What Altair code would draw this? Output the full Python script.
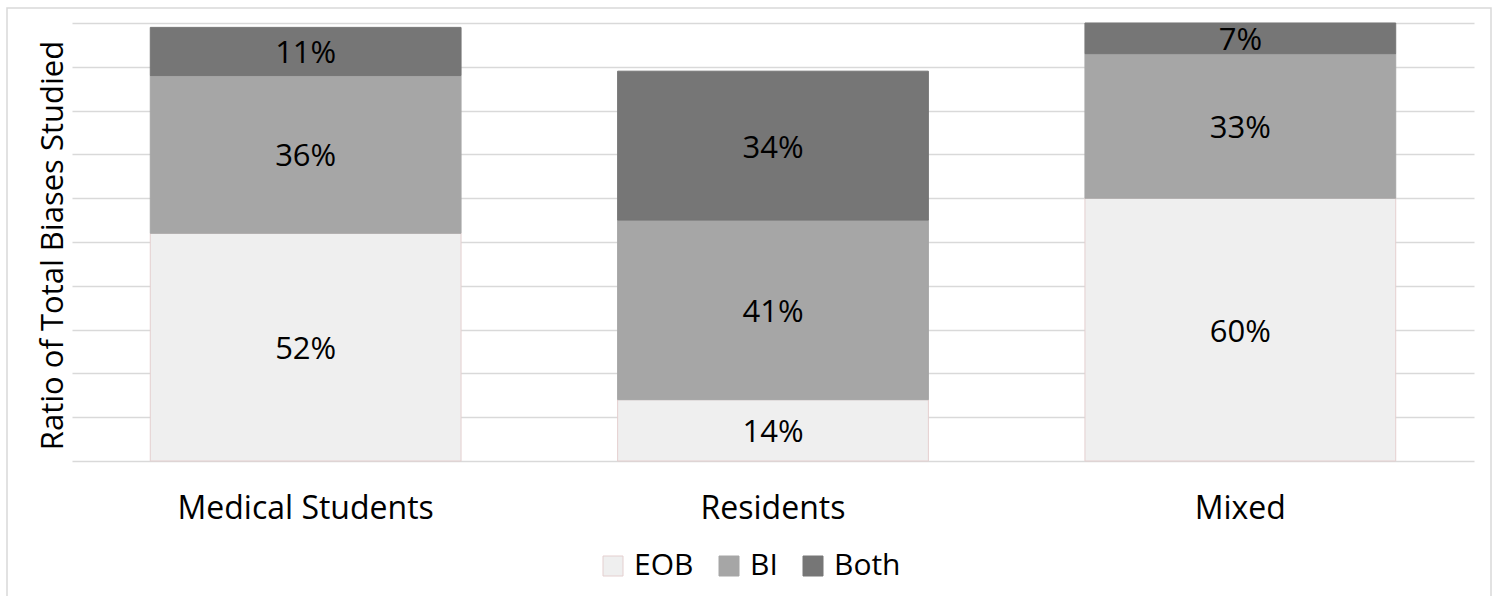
import altair as alt
import pandas as pd

groups = ["Medical Students", "Residents", "Mixed"]
types = ["EOB", "BI", "Both"]
eob = [52, 14, 60]
bi = [36, 41, 33]
both = [11, 34, 7]

fills = ["#efefef", "#a6a6a6", "#767676"]
strokes = ["#e4cfcf", "#a6a6a6", "#767676"]

rows = []
for g, a, b, c in zip(groups, eob, bi, both):
    for i, (t, v) in enumerate(zip(types, [a, b, c])):
        rows.append({"group": g, "type": t, "idx": i, "value": v, "label": f"{v}%"})
df = pd.DataFrame(rows)

FONT = "Open Sans"

base = alt.Chart(df).transform_stack(
    stack="value", groupby=["group"], as_=["y0", "y1"], sort=[alt.SortField("idx")]
).transform_calculate(mid="(datum.y0 + datum.y1) / 2")

xenc = alt.X(
    "group:N",
    sort=groups,
    title=None,
    scale=alt.Scale(paddingInner=0.335, paddingOuter=0.1675),
    axis=alt.Axis(
        labelAngle=0, ticks=False, domain=False, grid=False, labelLimit=0,
        labelFont=FONT, labelFontSize=32, labelColor="#000000",
        labelBaseline="alphabetic", labelPadding=57,
    ),
)

bars = base.mark_bar(strokeWidth=1).encode(
    x=xenc,
    y=alt.Y(
        "y0:Q",
        scale=alt.Scale(domain=[0, 100], nice=False),
        title="Ratio of Total Biases Studied",
        axis=alt.Axis(
            values=list(range(0, 101, 10)), labels=False, ticks=False, domain=False,
            grid=True, gridColor="#d9d9d9", gridWidth=1.5,
            titleFont=FONT, titleFontSize=31, titleFontWeight="normal", titleColor="#000000",
            titleX=-10, titleY=222, titleAngle=270, titleAlign="center", titleBaseline="alphabetic",
        ),
    ),
    y2="y1:Q",
    fill=alt.Fill(
        "type:N", sort=types, title=None,
        scale=alt.Scale(domain=types, range=fills),
        legend=alt.Legend(
            orient="none", direction="horizontal", legendX=526, legendY=528,
            symbolType="square", symbolSize=400, symbolStrokeWidth=1,
            labelFont=FONT, labelFontSize=30, labelColor="#000000",
            labelOffset=6, columnPadding=20, padding=0,
        ),
    ),
    stroke=alt.Stroke(
        "type:N", sort=types, title=None,
        scale=alt.Scale(domain=types, range=strokes),
    ),
)

labels = base.mark_text(font=FONT, fontSize=31, color="#000000", baseline="middle", dy=3).encode(
    x=alt.X("group:N", sort=groups),
    y=alt.Y("mid:Q"),
    text="label:N",
)

border = alt.Chart(alt.Data(values=[{"a": 1}])).mark_rect(
    fill=None, stroke="#d9d9d9", strokeWidth=1.5
).encode(
    x=alt.value(-65), x2=alt.value(1419), y=alt.value(-15), y2=alt.value(600)
)

chart = alt.layer(border, bars, labels).properties(
    width=1402, height=438,
    autosize=alt.AutoSizeParams(type="none"),
    padding={"left": 72, "top": 23, "right": 23, "bottom": 135},
    background="white",
).configure_view(stroke=None)

chart.save("out.html", embed_options={"renderer": "svg", "actions": False})
